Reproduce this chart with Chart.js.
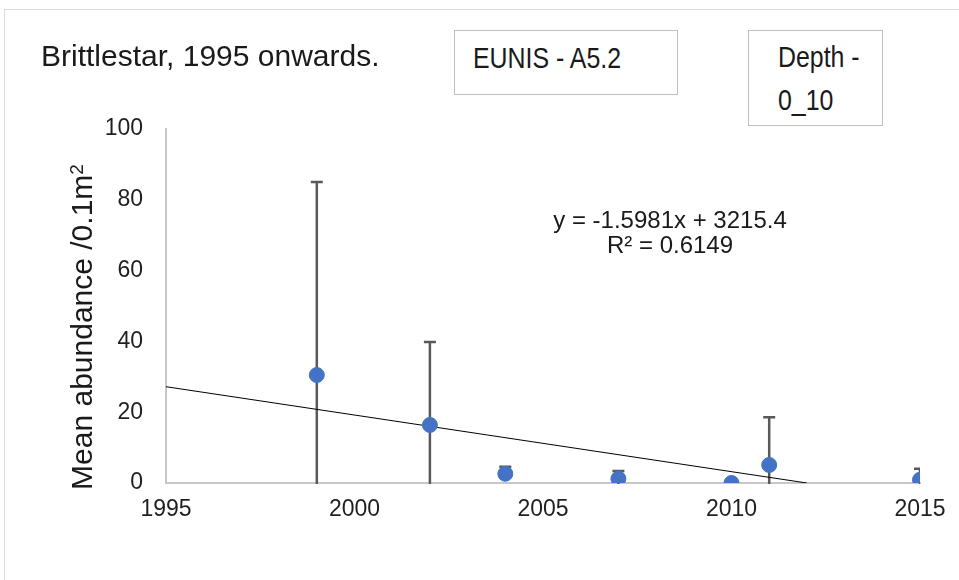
<!DOCTYPE html>
<html>
<head>
<meta charset="utf-8">
<script src="https://cdn.jsdelivr.net/npm/chart.js@4"></script>
<style>
  html, body { margin: 0; padding: 0; background: #fff; }
  #wrap { position: relative; width: 959px; height: 580px; overflow: hidden; }
  #frame { position: absolute; left: 4px; top: 9px; width: 980px; height: 600px; border: 1px solid #d9d9d9; }
  canvas { position: absolute; left: 0; top: 0; }
  .txt { position: absolute; font-family: "Liberation Sans", Arial, sans-serif; color: #1a1a1a; white-space: nowrap; }
  .box { position: absolute; border: 1.5px solid #bfbfbf; background: #fff; box-sizing: border-box; }
  .narrow { position: absolute; font-family: "Liberation Sans Narrow", "Liberation Sans", Arial, sans-serif;
            font-size: 30px; line-height: 30px; color: #1a1a1a; white-space: nowrap;
            transform: scaleX(0.83); transform-origin: 0 0; }
</style>
</head>
<body>
<div id="wrap">
  <div id="frame"></div>
  <canvas id="chart" width="959" height="580"></canvas>
  <div class="txt" style="left:41px; top:40.5px; font-size:30px; line-height:30px;">Brittlestar, 1995 onwards.</div>
  <div class="box" style="left:454px; top:30px; width:224px; height:65px;"></div>
  <div class="narrow" style="left:473px; top:42.5px;">EUNIS - A5.2</div>
  <div class="box" style="left:748px; top:30px; width:135px; height:96px;"></div>
  <div class="narrow" style="left:778px; top:41.5px;">Depth -</div>
  <div class="narrow" style="left:778px; top:84.5px;">0_10</div>
  <div class="txt" style="left:520px; top:207px; width:300px; text-align:center; font-size:24px; line-height:25px;">y = -1.5981x + 3215.4<br>R² = 0.6149</div>
  <div class="txt" style="left:-123.4px; top:311.5px; width:400px; height:30px; text-align:center; font-size:30px; line-height:30px; transform:rotate(-90deg);">Mean abundance /0.1m<span style="font-size:19px; vertical-align:9px;">2</span></div>
</div>
<script>
const years = [1999, 2002, 2004, 2007, 2010, 2011, 2015];
const means = [30.5, 16.4, 2.6, 1.2, 0, 5.1, 0.9];
const errors = [54.5, 23.4, 2.0, 2.2, 0, 13.5, 3.1];
const trendX = [1995, 2012];
const trendY = [27.2, 0];
const xTicks = [1995, 2000, 2005, 2010, 2015];
const yTicks = [0, 20, 40, 60, 80, 100];

const tickFont = { family: '"Liberation Sans", Arial, sans-serif', size: 23 };

// vertical error bars with caps, clipped to the plot area
const errorBars = {
    id: 'errorBars',
    beforeDatasetsDraw(chart) {
        const ctx = chart.ctx;
        const xs = chart.scales.x, ys = chart.scales.y;
        const area = chart.chartArea;
        ctx.save();
        ctx.beginPath();
        ctx.rect(area.left, area.top, area.right - area.left, area.bottom - area.top + 1);
        ctx.clip();
        ctx.strokeStyle = '#595959';
        ctx.lineWidth = 2.5;
        years.forEach(function(yr, i) {
            if (!errors[i]) return;
            const x = xs.getPixelForValue(yr);
            const top = ys.getPixelForValue(means[i] + errors[i]);
            const bot = ys.getPixelForValue(means[i] - errors[i]);
            ctx.beginPath();
            ctx.moveTo(x, top);
            ctx.lineTo(x, bot);
            ctx.moveTo(x - 6, top);
            ctx.lineTo(x + 6, top);
            ctx.stroke();
        });
        ctx.restore();
    }
};

new Chart(document.getElementById('chart').getContext('2d'), {
    type: 'scatter',
    data: {
        datasets: [
            {
                label: 'Mean',
                data: years.map(function(y, i) { return { x: y, y: means[i] }; }),
                backgroundColor: '#4472C4',
                borderColor: '#4472C4',
                pointRadius: 7.5,
                order: 0
            },
            {
                type: 'line',
                label: 'Trend',
                data: trendX.map(function(x, i) { return { x: x, y: trendY[i] }; }),
                borderColor: '#000',
                borderWidth: 1,
                pointRadius: 0,
                fill: false,
                order: 1
            }
        ]
    },
    options: {
        responsive: false,
        animation: false,
        layout: { padding: { top: 129, right: 39, left: 0, bottom: 0 } },
        plugins: { legend: { display: false }, tooltip: { enabled: false } },
        scales: {
            x: {
                type: 'linear',
                min: 1995,
                max: 2015,
                afterBuildTicks: function(scale) { scale.ticks = xTicks.map(function(v) { return { value: v }; }); },
                afterFit: function(scale) { scale.height = 97; },
                grid: { display: false, drawTicks: false },
                border: { display: true, color: '#c8c8c8', width: 2 },
                ticks: { color: '#1f1f1f', font: tickFont, padding: 13, maxRotation: 0,
                         callback: function(v) { return String(v); } }
            },
            y: {
                min: 0,
                max: 100,
                afterBuildTicks: function(scale) { scale.ticks = yTicks.map(function(v) { return { value: v }; }); },
                afterFit: function(scale) { scale.width = 166; },
                grid: { display: false, drawTicks: false },
                border: { display: true, color: '#c8c8c8', width: 2 },
                ticks: { color: '#1f1f1f', font: tickFont, padding: 23 }
            }
        }
    },
    plugins: [errorBars]
});
</script>
</body>
</html>
